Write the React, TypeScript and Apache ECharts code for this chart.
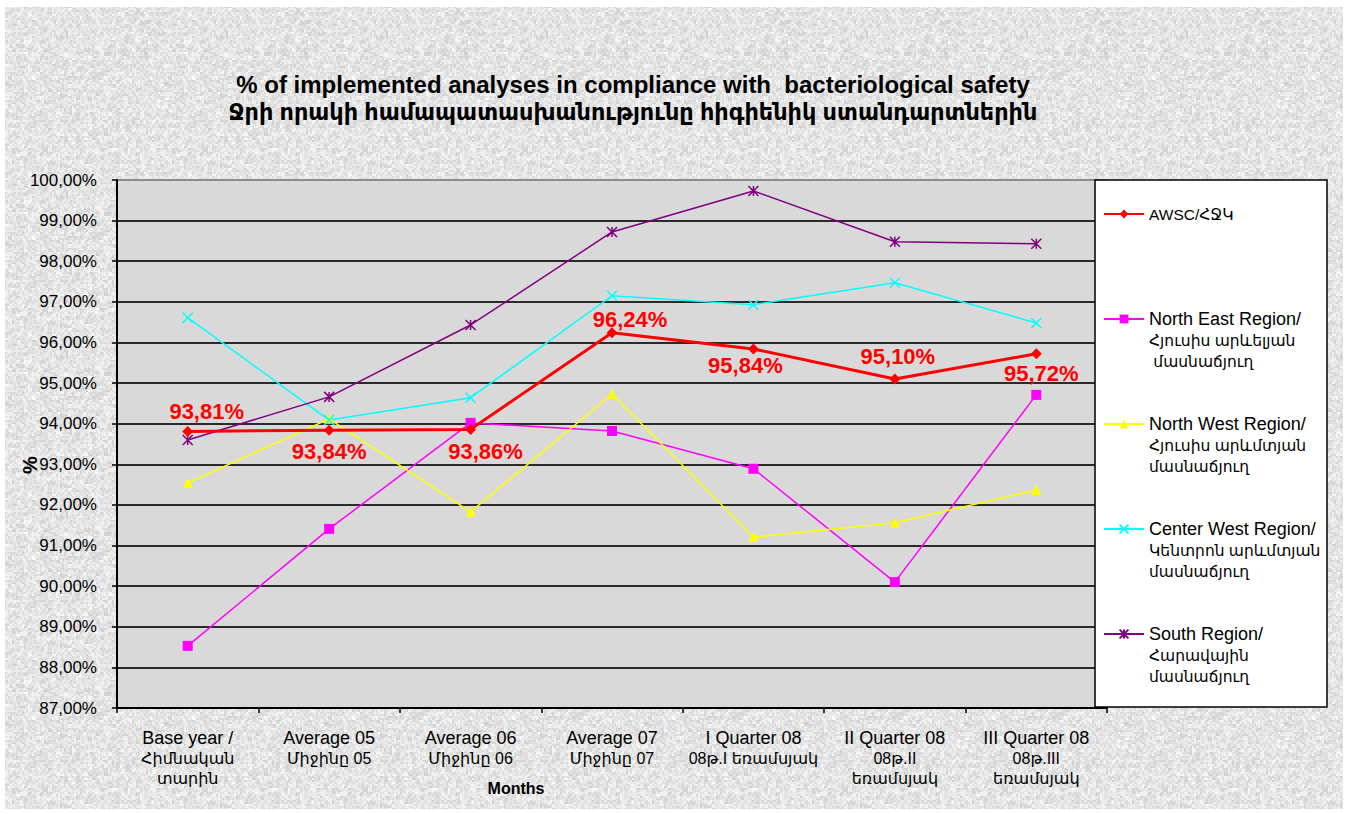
import React, { useEffect, useRef } from 'react';
import * as echarts from 'echarts';

const categories = [
  'Base year /\nՀիմնական\nտարին',
  'Average 05\nՄիջինը 05',
  'Average 06\nՄիջինը 06',
  'Average 07\nՄիջինը 07',
  'I Quarter 08\n08թ.I եռամսյակ',
  'II Quarter 08\n08թ.II\nեռամսյակ',
  'III Quarter 08\n08թ.III\nեռամսյակ',
];

const awsc = [93.81, 93.84, 93.86, 96.24, 95.84, 95.1, 95.72];
const northEast = [88.53, 91.41, 94.02, 93.82, 92.89, 90.1, 94.71];
const northWest = [92.54, 94.12, 91.83, 94.73, 91.21, 91.56, 92.37];
const centerWest = [96.61, 94.09, 94.64, 97.15, 96.93, 97.47, 96.48];
const south = [93.6, 94.66, 96.43, 98.72, 99.73, 98.48, 98.43];

const seriesNames = [
  'AWSC/ՀՋԿ',
  'North East Region/\nՀյուսիս արևելյան\n մասնաճյուղ',
  'North West Region/\nՀյուսիս արևմտյան\nմասնաճյուղ',
  'Center West Region/\nԿենտրոն արևմտյան\nմասնաճյուղ',
  'South Region/\nՀարավային\nմասնաճյուղ',
];

const titleLines = [
  '% of implemented analyses in compliance with  bacteriological safety',
  'Ջրի որակի համապատասխանությունը հիգիենիկ ստանդարտներին',
];

const yMin = 87;
const yMax = 100;
const yStep = 1;

const awscLabelOffsets = [[19, -20], [0, 21], [15, 22], [18, -13], [-8, 17], [3, -23], [5, 20]];
const legendCenters = [214, 319, 424, 529, 634];

const FONT = '"Liberation Sans", Arial, "DejaVu Sans", sans-serif';
const fmt = (v: number) => v.toFixed(2).replace('.', ',') + '%';
const isHy = (s: string) => /[\u0530-\u058F]/.test(s);

function makeTexture(): string {
  const size = 160;
  const c = document.createElement('canvas');
  c.width = size;
  c.height = size;
  const ctx = c.getContext('2d');
  if (!ctx) return '';
  const img = ctx.createImageData(size, size);
  const hash = (x: number, y: number) => {
    let h = Math.imul(x + 1013, 374761393) ^ Math.imul(y + 7919, 668265263);
    h = Math.imul(h ^ (h >>> 13), 1274126177);
    h = h ^ (h >>> 16);
    return ((h >>> 0) % 1000) / 1000;
  };
  for (let y = 0; y < size; y++) {
    for (let x = 0; x < size; x++) {
      const a = hash(x >> 1, y >> 1);
      const b = hash((x >> 2) + 500, (y >> 2) + 500);
      const v = Math.round(228 + (a - 0.5) * 26 + (b - 0.5) * 20);
      const i = (y * size + x) * 4;
      img.data[i] = v;
      img.data[i + 1] = v;
      img.data[i + 2] = v;
      img.data[i + 3] = 255;
    }
  }
  ctx.putImageData(img, 0, 0);
  return c.toDataURL();
}

export default function App() {
  const ref = useRef<HTMLDivElement>(null);
  useEffect(() => {
    if (!ref.current) return;
    const chart = echarts.init(ref.current, undefined, { renderer: 'svg' });

    const colors = ['#ff0000', '#ff00ff', '#ffff00', '#00ffff', '#800080'];
    const symbols = [
      'diamond',
      'rect',
      'triangle',
      'path://M0,0L10,10M10,0L0,10',
      'path://M5,0L5,10M0,0L10,10M10,0L0,10',
    ];
    const dataSets = [awsc, northEast, northWest, centerWest, south];

    const splitColors: string[] = [];
    for (let v = yMin; v <= yMax; v += yStep) splitColors.push(v === yMax ? '#8c8c8c' : '#2a2a2a');

    const LH = 21;
    const richLegend = {
      en: { fontFamily: FONT, fontSize: 18, lineHeight: LH, color: '#000' },
      hy: { fontFamily: FONT, fontSize: 15.5, lineHeight: LH, color: '#000' },
      e: { fontFamily: FONT, fontSize: 15, lineHeight: LH, color: '#000' },
    };
    const legends = seriesNames.map((name, i) => {
      const lines = name.split('\n').length;
      const boxH = Math.max(10, (2 * lines - 1) * LH);
      return {
        data: [name],
        orient: 'vertical',
        left: 1103,
        top: legendCenters[i] - boxH / 2,
        padding: 0,
        itemWidth: 40,
        itemHeight: 11,
        z: 10,
        selectedMode: false,
        formatter: (n: string) => {
          const ls = n.split('\n');
          const blanks = ls.slice(1).map(() => '{e| }');
          const styled = ls.map((l) => `{${isHy(l) ? 'hy' : 'en'}|${l}}`);
          return blanks.concat(styled).join('\n');
        },
        textStyle: { fontFamily: FONT, fontSize: 16, color: '#000', lineHeight: LH, rich: richLegend },
      };
    });

    const series = dataSets.map((d, i) => ({
      name: seriesNames[i],
      type: 'line',
      data: d,
      symbol: symbols[i],
      symbolSize: i === 0 ? 11 : 10,
      showAllSymbol: true,
      lineStyle: { color: colors[i], width: i === 0 ? 3 : 1.5 },
      itemStyle: { color: colors[i], borderColor: colors[i], borderWidth: i >= 3 ? 1.5 : 0 },
      z: i === 0 ? 5 : 3,
      label:
        i === 0
          ? {
              show: true,
              position: 'inside',
              formatter: (p: any) => fmt(p.value),
              color: '#ff0000',
              fontFamily: FONT,
              fontWeight: 'bold',
              fontSize: 22,
            }
          : { show: false },
      labelLayout:
        i === 0
          ? (p: any) => ({ dx: awscLabelOffsets[p.dataIndex][0], dy: awscLabelOffsets[p.dataIndex][1] })
          : undefined,
    }));

    const texture = makeTexture();

    chart.setOption({
      animation: false,
      backgroundColor: '#ffffff',
      title: {
        text: `{a|${titleLines[0]}}\n{b|${titleLines[1]}}`,
        left: 628,
        top: 65,
        textAlign: 'center',
        textStyle: {
          fontFamily: FONT,
          fontWeight: 'bold',
          fontSize: 22,
          lineHeight: 28,
          color: '#000',
          rich: {
            a: { fontFamily: FONT, fontWeight: 'bold', fontSize: 24, lineHeight: 28, color: '#000' },
            b: { fontFamily: FONT, fontWeight: 'bold', fontSize: 22.4, lineHeight: 28, color: '#000' },
          },
        },
      },
      graphic: [
        {
          type: 'rect',
          z: -10,
          silent: true,
          shape: { x: 5, y: 7, width: 1338, height: 802 },
          style: { fill: texture ? { image: texture, repeat: 'repeat' } : '#e4e4e4' },
        },
        {
          type: 'rect',
          z: 3,
          silent: true,
          shape: { x: 1095, y: 180, width: 232, height: 527 },
          style: { fill: '#ffffff', stroke: '#000', lineWidth: 1.5 },
        },
      ],
      legend: legends,
      grid: {
        left: 117,
        right: 242,
        top: 180,
        bottom: 106,
        show: true,
        backgroundColor: '#d9d9d9',
        borderWidth: 0,
        containLabel: false,
        outerBoundsMode: 'none',
      },
      xAxis: {
        type: 'category',
        data: categories,
        boundaryGap: true,
        axisLine: { lineStyle: { color: '#000', width: 2 } },
        axisTick: { show: true, length: 5, inside: false, lineStyle: { color: '#000', width: 1.5 } },
        axisLabel: {
          fontFamily: FONT,
          fontSize: 16,
          lineHeight: 20,
          color: '#000',
          margin: 20,
          interval: 0,
          formatter: (v: string) => v.split('\n').map((l) => `{${isHy(l) ? 'hy' : 'en'}|${l}}`).join('\n'),
          rich: {
            en: { fontFamily: FONT, fontSize: 18, lineHeight: 20, color: '#000' },
            hy: { fontFamily: FONT, fontSize: 16, lineHeight: 20, color: '#000' },
          },
        },
        name: 'Months',
        nameLocation: 'middle',
        nameGap: 72,
        nameMoveOverlap: false,
        nameTextStyle: { fontFamily: FONT, fontWeight: 'bold', fontSize: 16, color: '#000', padding: [0, 192, 0, 0] },
      },
      yAxis: {
        type: 'value',
        min: yMin,
        max: yMax,
        interval: yStep,
        axisLine: { show: true, lineStyle: { color: '#000', width: 2 } },
        axisTick: { show: true, length: 5, lineStyle: { color: '#000', width: 1.5 } },
        axisLabel: { fontFamily: FONT, fontSize: 17, color: '#000', margin: 20, formatter: (v: number) => fmt(v) },
        splitLine: { show: true, lineStyle: { color: splitColors, width: 2 } },
        name: '%',
        nameLocation: 'middle',
        nameRotate: 90,
        nameGap: 77,
        nameMoveOverlap: false,
        nameTextStyle: { fontFamily: FONT, fontWeight: 'bold', fontSize: 20, color: '#000', padding: [0, 42, 0, 0] },
      },
      series,
    });
    return () => chart.dispose();
  }, []);
  return <div ref={ref} style={{ position: 'absolute', left: 0, top: 0, width: 1349, height: 814 }} />;
}
